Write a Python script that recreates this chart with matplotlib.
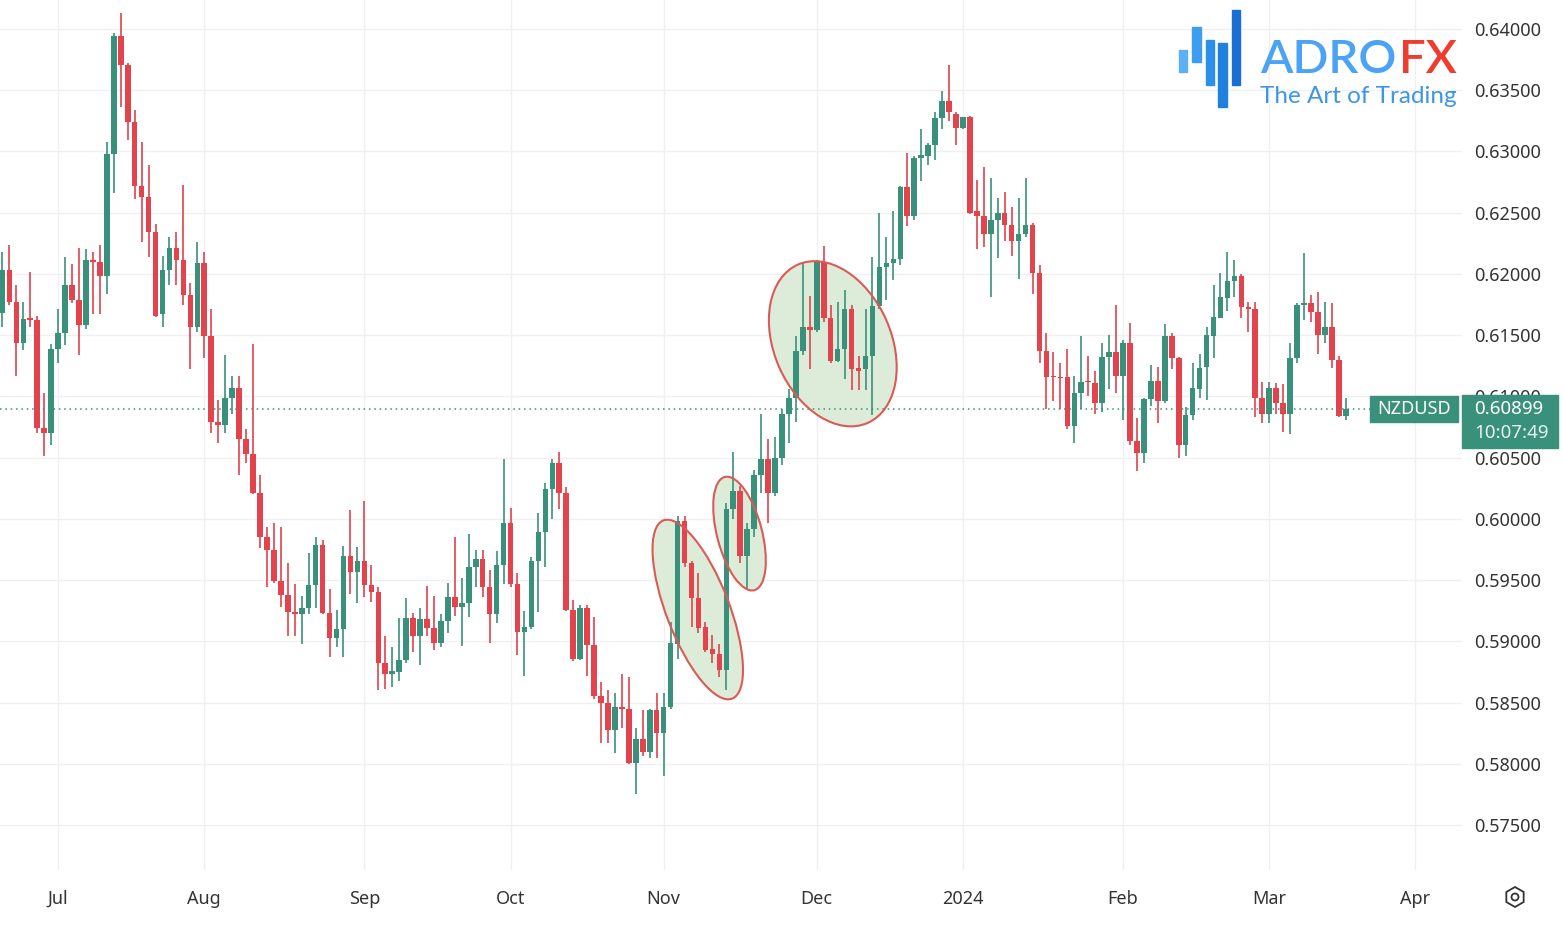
import matplotlib
matplotlib.use("Agg")
import matplotlib.pyplot as plt
import numpy as np
import pandas as pd
from matplotlib.patches import Rectangle, Ellipse, Circle, RegularPolygon
from matplotlib.transforms import IdentityTransform

symbol = "NZDUSD"
first_day = "2023-06-21"
countdown = "10:07:49"

opens = [
    .6168, .6203, .6177, .6144, .6164, .6162, .6074, .6070, .6139, .6152,
    .6191, .6179, .6158, .6211, .6210, .6198, .6298, .6394, .6371, .6324,
    .6272, .6263, .6234, .6167, .6203, .6221, .6211, .6183, .6157, .6209,
    .6149, .6079, .6077, .6099, .6107, .6065, .6053, .6021, .5985, .5975,
    .5949, .5938, .5924, .5922, .5927, .5946, .5979, .5923, .5903, .5910,
    .5970, .5957, .5966, .5946, .5940, .5882, .5873, .5875, .5885, .5919,
    .5904, .5918, .5911, .5899, .5917, .5936, .5928, .5931, .5961, .5967,
    .5944, .5922, .5962, .5997, .5947, .5908, .5912, .5966, .5989, .6024,
    .6046, .6021, .5926, .5886, .5927, .5897, .5855, .5850, .5828, .5846,
    .5845, .5801, .5820, .5810, .5844, .5825, .5846, .5898, .5998, .5964,
    .5935, .5912, .5894, .5890, .5877, .6008, .6023, .5970, .5992, .6036,
    .6049, .6021, .6050, .6086, .6099, .6137, .6157, .6154, .6210, .6164,
    .6129, .6139, .6171, .6123, .6122, .6133, .6174, .6206, .6209, .6212,
    .6271, .6247, .6295, .6296, .6305, .6327, .6341, .6331, .6319, .6328,
    .6251, .6247, .6233, .6244, .6250, .6240, .6227, .6233, .6240, .6201,
    .6137, .6117, .6116, .6116, .6076, .6103, .6113, .6111, .6095, .6132,
    .6136, .6117, .6144, .6064, .6054, .6098, .6113, .6096, .6149, .6131,
    .6060, .6085, .6106, .6124, .6149, .6164, .6180, .6194, .6198, .6173,
    .6171, .6099, .6086, .6107, .6095, .6086, .6131, .6175, .6176, .6169,
    .6150, .6157, .6130, .6084,
]
highs = [
    .6218, .6224, .6191, .6177, .6202, .6166, .6103, .6143, .6171, .6214,
    .6208, .6221, .6220, .6218, .6224, .6308, .6397, .6413, .6372, .6334,
    .6308, .6289, .6241, .6215, .6230, .6234, .6273, .6193, .6226, .6218,
    .6171, .6097, .6134, .6117, .6117, .6073, .6143, .6036, .5993, .5997,
    .5993, .5964, .5947, .5937, .5972, .5985, .5983, .5943, .5926, .5978,
    .6007, .5977, .6015, .5962, .5944, .5904, .5895, .5919, .5935, .5923,
    .5927, .5945, .5937, .5922, .5948, .5985, .5952, .5988, .5975, .5975,
    .5958, .5974, .6049, .6009, .5956, .5925, .5969, .6005, .6029, .6049,
    .6055, .6026, .5934, .5930, .5930, .5920, .5867, .5860, .5858, .5873,
    .5871, .5829, .5844, .5845, .5858, .5858, .5916, .6002, .6002, .5966,
    .5956, .5916, .5905, .5898, .6013, .6055, .6027, .5997, .6040, .6086,
    .6065, .6067, .6090, .6106, .6149, .6209, .6182, .6211, .6223, .6175,
    .6177, .6187, .6175, .6133, .6171, .6214, .6250, .6230, .6251, .6272,
    .6299, .6296, .6318, .6307, .6332, .6349, .6371, .6332, .6328, .6329,
    .6277, .6287, .6278, .6262, .6267, .6255, .6262, .6278, .6242, .6207,
    .6152, .6136, .6127, .6139, .6117, .6149, .6133, .6121, .6144, .6150,
    .6175, .6146, .6160, .6082, .6099, .6126, .6124, .6159, .6152, .6132,
    .6091, .6127, .6135, .6157, .6191, .6201, .6218, .6211, .6200, .6177,
    .6177, .6112, .6112, .6111, .6110, .6144, .6176, .6217, .6183, .6185,
    .6177, .6176, .6133, .6099,
]
lows = [
    .6157, .6175, .6117, .6138, .6157, .6070, .6051, .6060, .6127, .6142,
    .6176, .6134, .6155, .6167, .6167, .6184, .6266, .6336, .6309, .6261,
    .6226, .6214, .6165, .6157, .6191, .6191, .6175, .6122, .6153, .6131,
    .6070, .6062, .6070, .6086, .6036, .6046, .6020, .5976, .5944, .5948,
    .5928, .5904, .5904, .5898, .5922, .5927, .5922, .5887, .5895, .5887,
    .5939, .5931, .5936, .5932, .5860, .5861, .5863, .5868, .5882, .5891,
    .5881, .5904, .5893, .5895, .5907, .5921, .5896, .5920, .5944, .5936,
    .5899, .5915, .5947, .5944, .5889, .5872, .5910, .5924, .5961, .6000,
    .6008, .5925, .5884, .5885, .5872, .5853, .5817, .5817, .5809, .5829,
    .5800, .5775, .5806, .5805, .5805, .5790, .5845, .5886, .5961, .5912,
    .5907, .5891, .5882, .5871, .5860, .6000, .5964, .5942, .5985, .6021,
    .5997, .6019, .6044, .6062, .6079, .6134, .6122, .6153, .6161, .6127,
    .6128, .6114, .6105, .6105, .6105, .6085, .6171, .6179, .6195, .6207,
    .6239, .6244, .6276, .6289, .6293, .6318, .6325, .6305, .6318, .6249,
    .6220, .6222, .6181, .6213, .6227, .6215, .6196, .6230, .6184, .6127,
    .6090, .6096, .6090, .6073, .6062, .6090, .6100, .6086, .6087, .6106,
    .6103, .6081, .6060, .6039, .6046, .6092, .6078, .6095, .6122, .6050,
    .6051, .6081, .6099, .6097, .6131, .6164, .6170, .6181, .6164, .6153,
    .6083, .6078, .6078, .6086, .6071, .6069, .6127, .6162, .6161, .6135,
    .6144, .6123, .6083, .6081,
]
closes = [
    .6203, .6177, .6144, .6163, .6162, .6074, .6070, .6139, .6152, .6191,
    .6179, .6158, .6211, .6210, .6198, .6298, .6394, .6371, .6324, .6272,
    .6263, .6234, .6166, .6203, .6221, .6211, .6183, .6157, .6209, .6149,
    .6079, .6077, .6099, .6107, .6065, .6053, .6021, .5985, .5975, .5949,
    .5938, .5924, .5922, .5927, .5946, .5979, .5923, .5903, .5910, .5970,
    .5957, .5966, .5946, .5940, .5882, .5873, .5876, .5885, .5919, .5904,
    .5918, .5911, .5899, .5917, .5936, .5928, .5931, .5961, .5967, .5944,
    .5922, .5962, .5997, .5947, .5908, .5912, .5966, .5989, .6024, .6046,
    .6021, .5926, .5886, .5927, .5897, .5855, .5850, .5828, .5846, .5845,
    .5801, .5820, .5810, .5844, .5825, .5846, .5899, .5998, .5964, .5935,
    .5911, .5893, .5890, .5877, .6008, .6023, .5970, .5992, .6036, .6049,
    .6021, .6050, .6086, .6099, .6137, .6157, .6154, .6210, .6164, .6129,
    .6139, .6171, .6122, .6121, .6133, .6174, .6206, .6209, .6212, .6271,
    .6247, .6295, .6297, .6305, .6327, .6341, .6332, .6319, .6328, .6250,
    .6247, .6233, .6244, .6250, .6240, .6227, .6233, .6240, .6201, .6137,
    .6116, .6116, .6115, .6076, .6103, .6112, .6112, .6095, .6132, .6136,
    .6117, .6144, .6064, .6054, .6098, .6113, .6096, .6149, .6131, .6060,
    .6085, .6107, .6123, .6150, .6165, .6181, .6194, .6198, .6173, .6171,
    .6099, .6086, .6107, .6095, .6086, .6131, .6175, .6176, .6169, .6150,
    .6157, .6130, .6084, .6090,
]
last_price = 0.60899

price_ticks = [0.575, 0.580, 0.585, 0.590, 0.595, 0.600, 0.605, 0.610,
               0.615, 0.620, 0.625, 0.630, 0.635, 0.640]
month_starts = ["2023-07-01", "2023-08-01", "2023-09-01", "2023-10-01", "2023-11-01",
                "2023-12-01", "2024-01-01", "2024-02-01", "2024-03-01", "2024-04-01"]
month_labels = ["Jul", "Aug", "Sep", "Oct", "Nov", "Dec", "2024", "Feb", "Mar", "Apr"]

# highlighted swings: centre (bar, price)
highlight_bar = [99.9, 105.9, 119.3]
highlight_price = [0.5926, 0.5988, 0.6143]

UP = "#3a917b"
DOWN = "#e2434d"
GRID = "#f0f0f0"
TXT = "#333333"
W, H = 1564, 926


def main() -> None:
    o = np.array(opens); h = np.array(highs); l = np.array(lows); c = np.array(closes)
    n = len(o)
    x = np.arange(n)
    dates = pd.bdate_range(first_day, periods=n + 40)
    month_idx = [int(np.searchsorted(dates, pd.Timestamp(m))) for m in month_starts]

    plt.rcParams["font.family"] = ["Noto Sans", "DejaVu Sans"]
    fig = plt.figure(figsize=(W / 100, H / 100), dpi=100)
    ax = fig.add_axes([0, 1 - 870 / H, 1462 / W, 870 / H])
    ax.set_xlim(-0.35, 209.7)
    ax.set_ylim(0.57133, 0.64237)

    for t in price_ticks:
        ax.axhline(t, color=GRID, lw=1, zorder=0)
    for i in month_idx:
        ax.axvline(i, color=GRID, lw=1, zorder=0)

    up = c >= o
    cols = np.where(up, UP, DOWN)
    ax.vlines(x, l, h, colors=cols, lw=1.2, zorder=2)
    body = np.maximum(np.abs(c - o), 0.00009)
    ax.bar(x, body, bottom=np.minimum(o, c), width=0.8, color=cols, lw=0, zorder=3)

    ax.axhline(last_price, xmax=1370 / 1462, color=UP, ls=(0, (1, 2.5)), lw=1.1, zorder=4)

    ax.set_xticks(month_idx)
    ax.set_xticklabels(month_labels)
    for lab in ax.get_xticklabels():
        if lab.get_text() == "2024":
            lab.set_fontweight("bold")
    ax.set_yticks(price_ticks)
    ax.set_yticklabels([f"{t:.5f}" for t in price_ticks])
    ax.yaxis.tick_right()
    ax.tick_params(axis="x", length=0, pad=14.5, labelsize=13, labelcolor=TXT)
    ax.tick_params(axis="y", length=0, pad=9, labelsize=13, labelcolor=TXT)
    for s in ax.spines.values():
        s.set_visible(False)

    # ellipses around the swings (sizes in pixels); fill under the candles
    shapes = [(191, 63, -68.9), (117, 45, -75.4), (173, 117, -66.2)]
    pix = IdentityTransform()
    for bx, by, (w, hh, ang) in zip(highlight_bar, highlight_price, shapes):
        cx, cy = ax.transData.transform((bx, by))
        ax.add_patch(Ellipse((cx, cy), w, hh, angle=ang, transform=pix,
                             facecolor="#dcecd8", edgecolor="none", zorder=1))
        ax.add_patch(Ellipse((cx, cy), w, hh, angle=ang, transform=pix,
                             facecolor="none", edgecolor="#db5a55", lw=1.5, zorder=6))

    # last price labels
    yc = H - ax.transData.transform((0, last_price))[1]
    fig.add_artist(Rectangle((1370 / W, 1 - (yc + 13) / H), 88 / W, 26 / H,
                             transform=fig.transFigure, color=UP, zorder=7))
    fig.text(1414 / W, 1 - yc / H, symbol, color="white", fontsize=13, ha="center",
             va="center", zorder=8)
    fig.add_artist(Rectangle((1462 / W, 1 - (yc + 39) / H), 96 / W, 53 / H,
                             transform=fig.transFigure, color=UP, zorder=7))
    fig.text(1474 / W, 1 - yc / H, f"{last_price:.5f}", color="white", fontsize=13.5,
             fontweight="bold", ha="left", va="center", zorder=8)
    fig.text(1474 / W, 1 - (yc + 24) / H, countdown, color="#e6f2ef", fontsize=13.5,
             ha="left", va="center", zorder=8)

    # logo
    bars = [(1179, 50, 1187, 72, "#5eb0f6"), (1192, 27, 1201, 62, "#3d9ef1"),
            (1206, 40, 1214, 85, "#2b90e9"), (1218, 43, 1227, 107, "#1f80de"),
            (1232, 10, 1240, 85, "#1a70d2")]
    for x0, y0, x1, y1, col in bars:
        fig.add_artist(Rectangle((x0 / W, 1 - y1 / H), (x1 - x0) / W, (y1 - y0) / H,
                                 transform=fig.transFigure, color=col, zorder=9))
    fig.text(1260 / W, 1 - 73 / H, "ADRO", color="#4aa3f5", fontsize=34, fontweight="semibold",
             family="Lato", ha="left", va="baseline", zorder=9)
    fig.text(1399 / W, 1 - 73 / H, "FX", color="#f03b2f", fontsize=34, fontweight="semibold",
             family="Lato", ha="left", va="baseline", zorder=9)
    fig.text(1260 / W, 1 - 103 / H, "The Art of Trading", color="#3d95e8", fontsize=17.5,
             fontweight="normal", family="Lato", ha="left", va="baseline", zorder=9)

    # settings icon (pixel units so it stays round)
    gx, gy = 1515, H - 897
    fig.add_artist(RegularPolygon((gx, gy), 6, radius=10, orientation=0, transform=pix,
                                  fill=False, ec=TXT, lw=1.3, zorder=9))
    fig.add_artist(Circle((gx, gy), 3.5, transform=pix, fill=False, ec=TXT, lw=1.3, zorder=9))

    fig.savefig("out.png", dpi=100, facecolor="white")
    plt.close(fig)


if __name__ == "__main__":
    main()
